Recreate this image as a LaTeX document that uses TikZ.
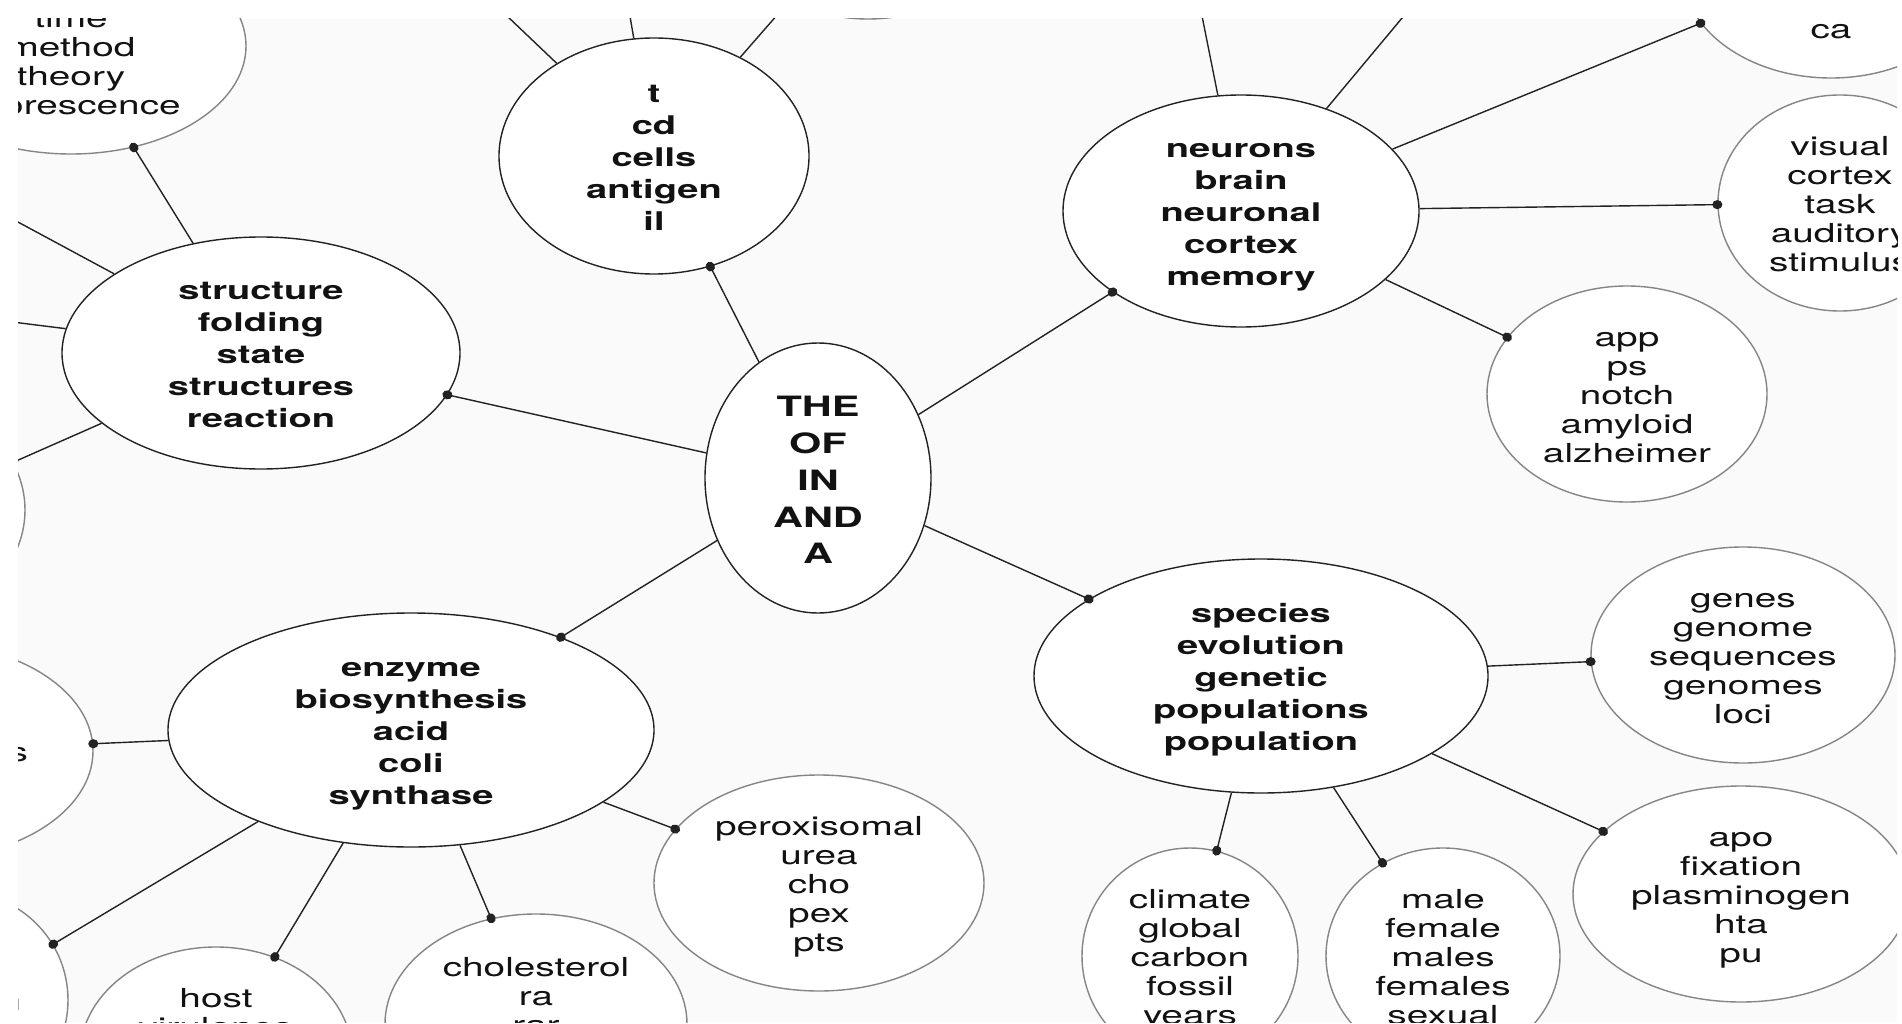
\documentclass[tikz,border=0pt]{standalone}
\usepackage{fontspec}
\setmainfont{TeX Gyre Heros}
\usepackage{graphicx}
\usetikzlibrary{shapes.geometric,arrows.meta}
\definecolor{panelgray}{HTML}{FAFAFA}
\definecolor{inkgray}{HTML}{222222}
\definecolor{rimgray}{HTML}{858585}
% words of one bubble, stacked and widened
\newcommand{\wordstack}[1]{\raisebox{-0.4em}[0pt][0pt]{\scalebox{1.48}[1]{\begin{tabular}{@{}c@{}}#1\end{tabular}}}}

\begin{document}
\begin{tikzpicture}[
    x=1pt, y=-1pt,
    oval/.style 2 args={minimum width=#1, minimum height=#2},
    bubble/.style={ellipse, fill=white, inner sep=0pt, line width=1.4pt, text=black!93},
    core/.style={bubble, draw=inkgray, font=\fontsize{28}{36.7}\selectfont\bfseries},
    topic/.style={bubble, draw=inkgray, font=\fontsize{25.7}{31.8}\selectfont\bfseries},
    leaf/.style={bubble, draw=rimgray, font=\fontsize{26.2}{29}\selectfont},
    link/.style={draw=inkgray, line width=1.4pt, shorten >=-5pt,
                 -{Circle[length=10pt,width=9pt]}},
    stub/.style={draw=inkgray, line width=1.4pt}
  ]
  \useasboundingbox (0,0) rectangle (1902,1024);
  \fill[panelgray] (18,19) rectangle (1897,1022);
  \begin{scope}
    \clip (18,19) rectangle (1897,1022);

    % centre and topics
    \node[core, oval={226pt}{270pt}] (core) at (818,478) {\wordstack{THE\\OF\\IN\\AND\\A}};
    \node[topic, oval={310pt}{236pt}] (tcell) at (654,156) {\wordstack{t\\cd\\cells\\antigen\\il}};
    \node[topic, oval={398pt}{232pt}] (fold) at (261,353) {\wordstack{structure\\folding\\state\\structures\\reaction}};
    \node[topic, oval={356pt}{232pt}] (neuro) at (1241,211) {\wordstack{neurons\\brain\\neuronal\\cortex\\memory}};
    \node[topic, oval={486pt}{234pt}] (enzyme) at (411,730) {\wordstack{enzyme\\biosynthesis\\acid\\coli\\synthase}};
    \node[topic, oval={454pt}{234pt}] (evol) at (1261,676) {\wordstack{species\\evolution\\genetic\\populations\\population}};

    % leaves
    \node[leaf, oval={350pt}{216pt}] (fluor) at (71,46) {\wordstack{{}\\time\\method\\theory\\fluorescence}};
    \node[leaf, oval={240pt}{216pt}] (foldleft) at (-95,510) {};
    \node[leaf, oval={280pt}{216pt}] (tcelltop) at (868,-89) {};
    \node[leaf, oval={298pt}{216pt}] (calc) at (1831,-30) {\wordstack{{}\\{}\\{}\\{}\\ca}};
    \node[leaf, oval={244pt}{216pt}] (visual) at (1840,203) {\wordstack{visual\\cortex\\task\\auditory\\stimulus}};
    \node[leaf, oval={280pt}{216pt}] (alz) at (1627,394) {\wordstack{app\\ps\\notch\\amyloid\\alzheimer}};
    \node[leaf, oval={336pt}{216pt}] (leftmid) at (-75,751) {\wordstack{{}\\{}\\\hspace*{126pt}s\\{}\\{}}};
    \node[leaf, oval={216pt}{216pt}] (leftlow) at (-40,1000) {\wordstack{{}\\{}\\\hspace*{68pt}n\\{}\\{}}};
    \node[leaf, oval={272pt}{216pt}] (host) at (216,1055) {\wordstack{host\\virulence\\{}\\{}\\{}}};
    \node[leaf, oval={302pt}{220pt}] (chol) at (536,1024) {\wordstack{cholesterol\\ra\\rar\\{}\\{}}};
    \node[leaf, oval={330pt}{216pt}] (perox) at (819,883) {\wordstack{peroxisomal\\urea\\cho\\pex\\pts}};
    \node[leaf, oval={304pt}{216pt}] (genes) at (1743,655) {\wordstack{genes\\genome\\sequences\\genomes\\loci}};
    \node[leaf, oval={336pt}{216pt}] (apo) at (1741,894) {\wordstack{apo\\fixation\\plasminogen\\hta\\pu}};
    \node[leaf, oval={216pt}{216pt}] (climate) at (1190,956) {\wordstack{climate\\global\\carbon\\fossil\\years}};
    \node[leaf, oval={234pt}{216pt}] (male) at (1443,956) {\wordstack{male\\female\\males\\females\\sexual}};

    % branches leaving the frame
    \coordinate (tup1) at (422,-65);
    \coordinate (tup2) at (616,-65);
    \coordinate (nup1) at (1183,-79);
    \coordinate (nup2) at (1483,-79);
    \coordinate (fl1) at (-60,180);
    \coordinate (fl2) at (-60,313);
    \foreach \a/\b in {tcell/tup1, tcell/tup2, neuro/nup1, neuro/nup2, fold/fl1, fold/fl2}
      \draw[stub] (\a) -- (\b);

    % parent -- child, dot on the child
    \foreach \a/\b in {core/tcell, core/fold, core/neuro, core/enzyme, core/evol,
                       fold/fluor, fold/foldleft, tcell/tcelltop,
                       neuro/calc, neuro/visual, neuro/alz,
                       enzyme/leftmid, enzyme/leftlow, enzyme/host, enzyme/chol, enzyme/perox,
                       evol/genes, evol/apo, evol/climate, evol/male}
      \draw[link] (\a) -- (\b);
  \end{scope}
\end{tikzpicture}
\end{document}
